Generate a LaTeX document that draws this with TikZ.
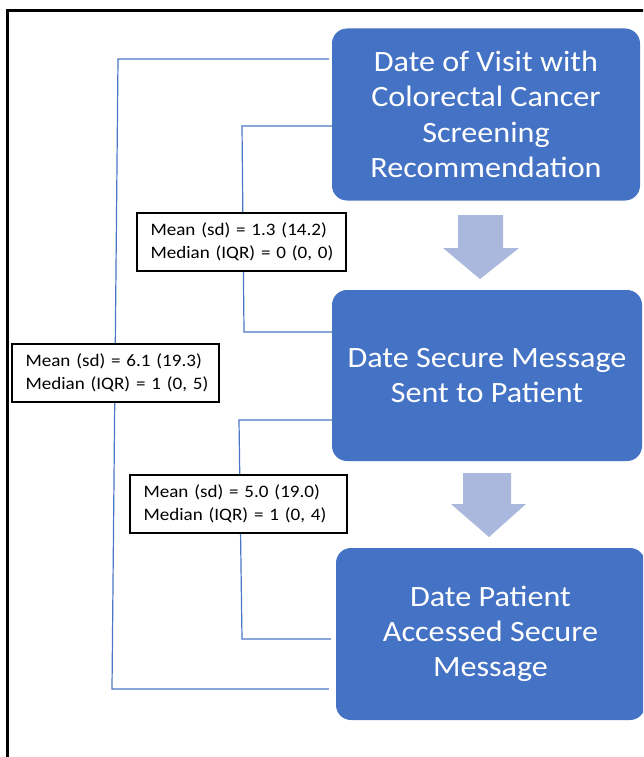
\documentclass[tikz,border=0pt]{standalone}
\usepackage{fontspec}
\setmainfont{Carlito}[FakeStretch=1.09]
\definecolor{boxblue}{HTML}{4472C4}
\definecolor{arrowblue}{HTML}{A9B8DC}
\definecolor{connblue}{HTML}{4A76C6}
\begin{document}
\begin{tikzpicture}[x=1pt,y=-1pt,
  box/.style={draw=none, fill=boxblue, rounded corners=15pt, text=white, align=center,
    font=\fontsize{29.5}{35.3}\selectfont, inner sep=0pt},
  lab/.style={draw=black, line width=1.2pt, fill=white, align=left,
    font=\fontsize{17.5}{22.4}\selectfont, inner xsep=13.5pt, inner ysep=0pt, minimum height=58pt},
  conn/.style={draw=connblue, line width=1.2pt},
  bigarrow/.style={fill=arrowblue, draw=none}]
\useasboundingbox (0,0) rectangle (643,757);
\clip (0,0) rectangle (643,757);
\fill[white] (0,0) rectangle (643,757);
% frame
\draw[line width=3pt] (7.5,770) -- (7.5,10.7) -- (660,10.7);
% boxes
\node[box, minimum width=308pt, minimum height=172pt] (b1) at (486,114.5)
  {Date of Visit with\\Colorectal Cancer\\Screening\\Recommendation};
\node[box, minimum width=310pt, minimum height=171pt] (b2) at (487,375.5)
  {Date Secure Message\\Sent to Patient};
\node[box, minimum width=309pt, minimum height=172pt] (b3) at (490.5,634)
  {Date Patient\\Accessed Secure\\Message};
% arrows
\fill[bigarrow] (458,215) -- (503,215) -- (503,248) -- (519,248) -- (480,279) -- (443,248) -- (458,248) -- cycle;
\fill[bigarrow] (463,473) -- (511,473) -- (511,504) -- (526,504) -- (489,537) -- (451,504) -- (463,504) -- cycle;
% connectors
\coordinate (o1) at (118,59);
\coordinate (o2) at (112,689);
\coordinate (i1) at (242,126);
\coordinate (i2) at (244,332);
\coordinate (i3) at (239,420);
\coordinate (i4) at (242,639);
\draw[conn, shorten <=3pt, shorten >=7pt] (b1.west |- o1) -- (o1) -- (o2) -- (b3.west |- o2);
\draw[conn] (b1.west |- i1) -- (i1) -- (i2) -- (b2.west |- i2);
\draw[conn, shorten >=5pt] (b2.west |- i3) -- (i3) -- (i4) -- (b3.west |- i4);
% labels
\node[lab, text width=182pt] (l1) at (241.5,242) {\mbox{Mean (sd) = 1.3 (14.2)}\\\mbox{Median (IQR) = 0 (0, 0)}};
\node[lab, text width=190pt] (l2) at (238.5,504) {\mbox{Mean (sd) = 5.0 (19.0)}\\\mbox{Median (IQR) = 1 (0, 4)}};
\node[lab, text width=180pt] (l3) at (115.5,373) {\mbox{Mean (sd) = 6.1 (19.3)}\\\mbox{Median (IQR) = 1 (0, 5)}};
\end{tikzpicture}
\end{document}
